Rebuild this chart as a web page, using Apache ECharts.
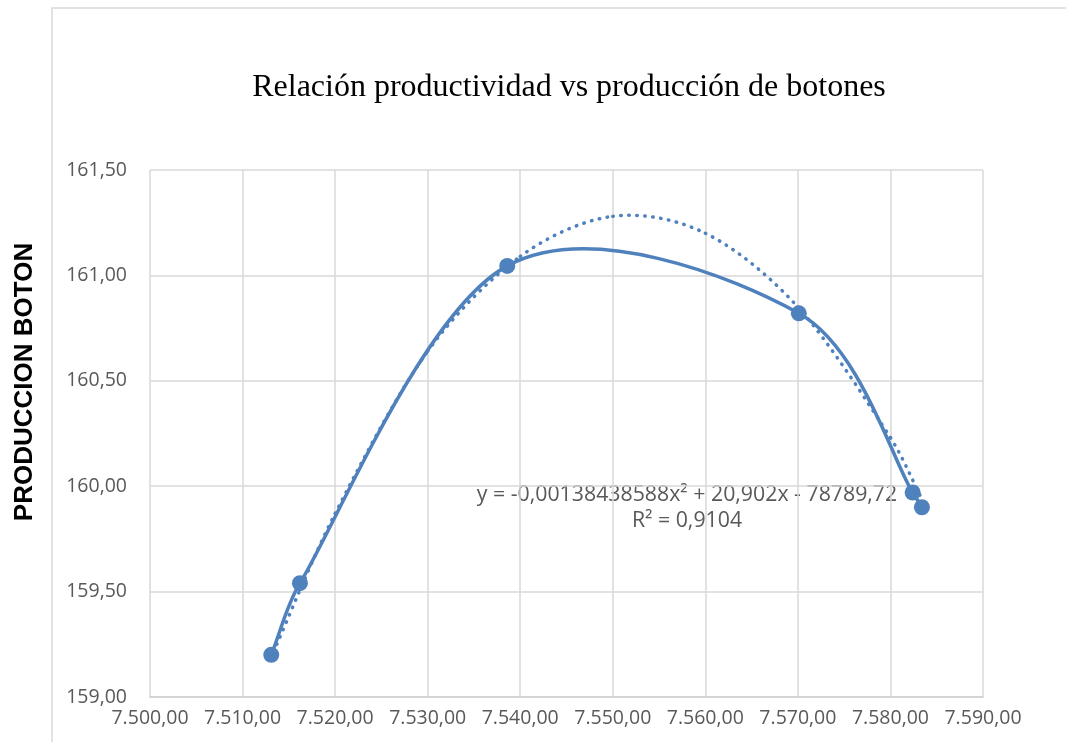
<!DOCTYPE html>
<html>
<head>
<meta charset="utf-8">
<script src="https://cdn.jsdelivr.net/npm/echarts@6/dist/echarts.min.js"></script>
<style>
    html, body { margin: 0; padding: 0; background: #fff; }
    #chart { width: 1066px; height: 742px; }
</style>
</head>
<body>
<div id="chart"></div>
<script>
// valores
var produccion = [7513.1, 7516.2, 7538.6, 7570.1, 7582.4, 7583.4];
var productividad = [159.20, 159.54, 161.045, 160.82, 159.97, 159.90];

// linea de tendencia (punteada)
var tendX = [7513, 7520, 7530, 7540, 7550, 7560, 7570, 7580, 7583.5];
var tendY = [159.18, 159.87, 160.64, 161.09, 161.28, 161.20, 160.85, 160.23, 159.93];

var ecuacion = 'y = -0,00138438588x² + 20,902x - 78789,72';
var r2 = 'R² = 0,9104';

var azul = '#4f81bd';

function numES(v) {
    var s = v.toFixed(2).split('.');
    var ent = s[0].replace(/\B(?=(\d{3})+(?!\d))/g, '.');
    return ent + ',' + s[1];
}

function pares(xs, ys) {
    var out = [];
    for (var i = 0; i < xs.length; i++) {
        out.push([xs[i], ys[i]]);
    }
    return out;
}

// punto de control: desde "o" en la direccion (hacia - desde), limitado al tramo
function control(o, desde, hacia, tramo) {
    var dx = hacia[0] - desde[0], dy = hacia[1] - desde[1];
    var len = Math.sqrt(dx * dx + dy * dy) || 1;
    var l = Math.min(len / 6, tramo / 3);
    return [o[0] + dx / len * l, o[1] + dy / len * l];
}

// curva suavizada tipo Excel (bezier) sobre los puntos en pixeles
function curvaSuave(xs, ys, estilo) {
    return function (params, api) {
        if (params.dataIndex !== 0) return null;
        var p = [];
        for (var i = 0; i < xs.length; i++) {
            p.push(api.coord([xs[i], ys[i]]));
        }
        var n = p.length;
        var hijos = [];
        for (var k = 0; k < n - 1; k++) {
            var b = p[k];
            var c = p[k + 1];
            var a = k > 0 ? p[k - 1] : [2 * b[0] - c[0], 2 * b[1] - c[1]];
            var d = k + 2 < n ? p[k + 2] : [2 * c[0] - b[0], 2 * c[1] - b[1]];
            var tramo = Math.sqrt((c[0] - b[0]) * (c[0] - b[0]) + (c[1] - b[1]) * (c[1] - b[1]));
            var c1 = control(b, a, c, tramo);
            var c2 = control(c, d, b, tramo);
            hijos.push({
                type: 'bezierCurve',
                shape: {
                    x1: b[0], y1: b[1],
                    x2: c[0], y2: c[1],
                    cpx1: c1[0], cpy1: c1[1],
                    cpx2: c2[0], cpy2: c2[1]
                },
                style: estilo
            });
        }
        return { type: 'group', children: hijos };
    };
}

var chart = echarts.init(document.getElementById('chart'));
chart.setOption({
    animation: false,
    grid: {
        left: 150,
        right: 83,
        top: 170,
        bottom: 45
    },
    xAxis: {
        type: 'value',
        min: 7500,
        max: 7590,
        interval: 10,
        axisLine: { show: true, onZero: false, lineStyle: { color: '#d0d0d0', width: 1.5 } },
        axisTick: { show: false },
        splitLine: { show: true, lineStyle: { color: '#d9d9d9', width: 1.5 } },
        axisLabel: {
            margin: 11,
            color: '#595959',
            fontFamily: 'Open Sans',
            fontSize: 19.5,
            formatter: function (v) { return numES(v); }
        }
    },
    yAxis: {
        type: 'value',
        min: 159,
        max: 161.5,
        interval: 0.5,
        axisLine: { show: false },
        axisTick: { show: false },
        splitLine: { show: true, lineStyle: { color: '#d9d9d9', width: 1.5 } },
        axisLabel: {
            margin: 23,
            color: '#595959',
            fontFamily: 'Open Sans',
            fontSize: 19.5,
            formatter: function (v) { return v.toFixed(2).replace('.', ','); }
        }
    },
    series: [
        {
            type: 'custom',
            data: pares(tendX, tendY),
            renderItem: curvaSuave(tendX, tendY, {
                fill: null,
                stroke: azul,
                lineWidth: 3.5,
                lineDash: [0.5, 7.5],
                lineCap: 'round'
            }),
            z: 2,
            silent: true
        },
        {
            type: 'custom',
            data: pares(produccion, productividad),
            renderItem: curvaSuave(produccion, productividad, {
                fill: null,
                stroke: azul,
                lineWidth: 3.5
            }),
            z: 3,
            silent: true
        },
        {
            type: 'scatter',
            data: pares(produccion, productividad),
            symbol: 'circle',
            symbolSize: 16,
            z: 4,
            itemStyle: { color: azul, opacity: 1 }
        }
    ],
    graphic: [
        {
            type: 'rect',
            shape: { x: 52, y: 8, width: 1100, height: 800 },
            style: { fill: 'none', stroke: '#d9d9d9', lineWidth: 1.5 },
            silent: true
        },
        {
            type: 'text',
            x: 569,
            y: 88,
            style: {
                text: 'Relación productividad vs producción de botones',
                fill: '#000',
                font: '32px "Liberation Serif"',
                align: 'center',
                verticalAlign: 'middle'
            }
        },
        {
            type: 'text',
            x: 25,
            y: 382,
            rotation: Math.PI / 2,
            style: {
                text: 'PRODUCCION BOTON',
                fill: '#000',
                font: 'bold 26px "Liberation Sans"',
                align: 'center',
                verticalAlign: 'middle'
            }
        },
        {
            type: 'text',
            x: 687,
            y: 495,
            style: {
                text: ecuacion,
                fill: '#595959',
                font: '21.3px "Open Sans"',
                align: 'center',
                verticalAlign: 'middle'
            }
        },
        {
            type: 'text',
            x: 687,
            y: 521,
            style: {
                text: r2,
                fill: '#595959',
                font: '21.3px "Open Sans"',
                align: 'center',
                verticalAlign: 'middle'
            }
        }
    ]
});
</script>
</body>
</html>
